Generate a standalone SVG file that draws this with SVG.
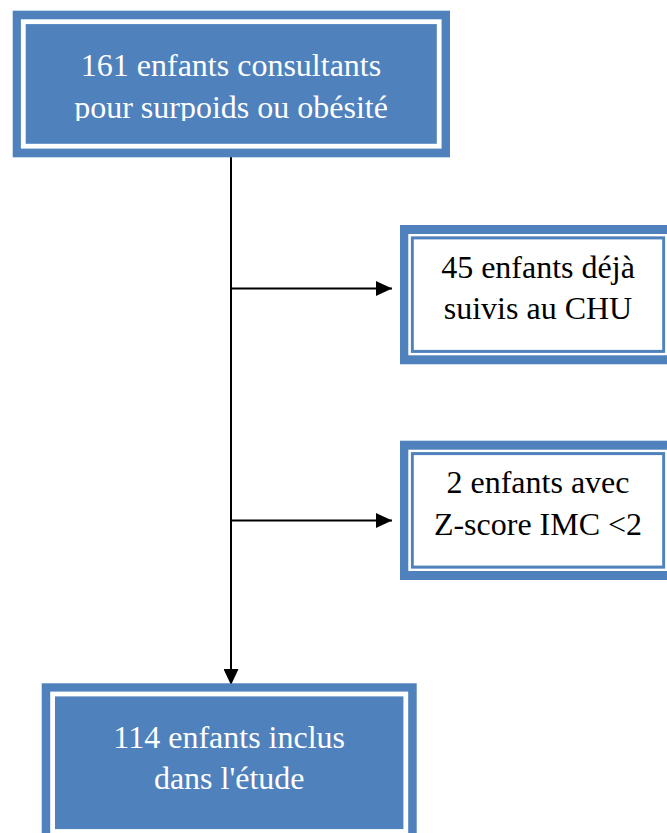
<svg xmlns="http://www.w3.org/2000/svg" width="667" height="833" viewBox="0 0 667 833">
<style>
.blue{fill:#4F81BD;}
.wstripe{fill:none;stroke:#FFFFFF;stroke-width:4.8;}
.bthin{fill:#FFFFFF;stroke:#4F81BD;stroke-width:2.8;}
.gap{fill:none;stroke:#FFFFFF;stroke-width:2.6;}
.tw{font-size:32px;fill:#FFFFFF;text-anchor:middle;}
.tb{font-size:32px;fill:#000000;text-anchor:middle;}
.conn{stroke:#000000;stroke-width:2;fill:none;}
</style>
<defs>
<marker id="arr" markerWidth="16" markerHeight="15" refX="16" refY="7.5" orient="auto" markerUnits="userSpaceOnUse">
<path d="M0,0 L16,7.5 L0,15 Z" fill="#000000"/>
</marker>
<clipPath id="clipTop"><rect x="26" y="24" width="410" height="97"/></clipPath>
</defs>
<rect width="667" height="833" fill="#FFFFFF"/>
<g id="connectors">
<line class="conn" x1="231" y1="157" x2="231" y2="685" marker-end="url(#arr)"/>
<line class="conn" x1="231" y1="288.5" x2="392" y2="288.5" marker-end="url(#arr)"/>
<line class="conn" x1="231" y1="520.5" x2="392" y2="520.5" marker-end="url(#arr)"/>
</g>
<g font-family="'Liberation Serif', 'Times New Roman', serif">
<g id="node-161">
<rect class="blue" x="12.7" y="10.7" width="437.3" height="146.6"/>
<rect class="wstripe" x="23.3" y="21.7" width="415.9" height="124.5"/>
<g clip-path="url(#clipTop)">
<text class="tw" x="231" y="76">161 enfants consultants</text>
<text class="tw" x="231" y="118.3">pour surpoids ou obésité</text>
</g>
</g>
<g id="node-45">
<rect class="blue" x="400" y="225" width="276" height="139.3"/>
<rect class="gap" x="409.6" y="235.3" width="256.8" height="118.7"/>
<rect class="bthin" x="412.4" y="238" width="251.2" height="113.3"/>
<text class="tb" x="538" y="278">45 enfants déjà</text>
<text class="tb" x="538" y="319">suivis au CHU</text>
</g>
<g id="node-2">
<rect class="blue" x="400" y="440.7" width="276" height="139.3"/>
<rect class="gap" x="409.6" y="451" width="256.8" height="118.7"/>
<rect class="bthin" x="412.4" y="453.7" width="251.2" height="113.3"/>
<text class="tb" x="538" y="493">2 enfants avec</text>
<text class="tb" x="538" y="535">Z-score IMC &lt;2</text>
</g>
<g id="node-114">
<rect class="blue" x="41.7" y="683.3" width="375" height="170"/>
<rect class="wstripe" x="52.6" y="694" width="353.2" height="137.5"/>
<text class="tw" x="229.2" y="748">114 enfants inclus</text>
<text class="tw" x="229.2" y="789">dans l'étude</text>
</g>
</g>
</svg>
